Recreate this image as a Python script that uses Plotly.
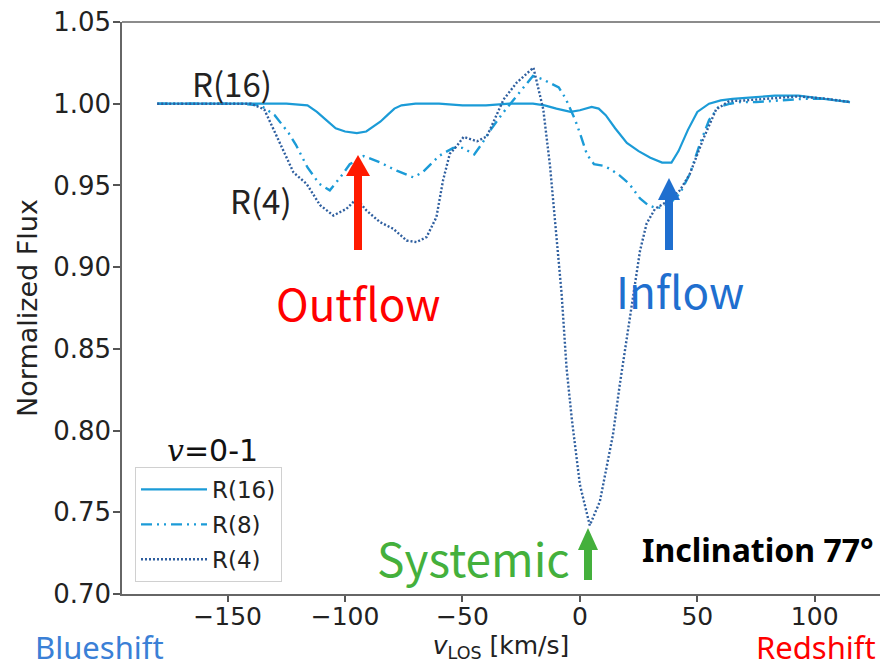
import plotly.graph_objects as go

# ---------------- data ----------------
v_r16 = [-180, -160, -140, -125, -116, -112, -108, -104, -100, -95, -91, -88, -85, -82, -79, -76,
         -70, -60, -50, -40, -30, -20, -15, -10, -4, 0, 5, 8, 11, 15, 20, 25, 30, 35, 39, 42,
         46, 50, 55, 60, 65, 75, 83, 93, 105, 115]
f_r16 = [1.000, 1.000, 1.000, 1.000, 0.999, 0.995, 0.990, 0.985, 0.983, 0.982, 0.983, 0.986, 0.989,
         0.993, 0.997, 0.999, 1.000, 1.000, 0.999, 0.999, 1.000, 1.000, 0.999, 0.997, 0.995, 0.996,
         0.998, 0.997, 0.993, 0.985, 0.976, 0.971, 0.967, 0.964, 0.964, 0.971, 0.984, 0.995, 1.000,
         1.002, 1.003, 1.004, 1.005, 1.005, 1.003, 1.001]

v_r8 = [-180, -160, -145, -136, -130, -124, -121, -116, -111, -106.5, -102, -98, -92, -85, -78,
        -71, -67, -60, -54, -50, -45, -42, -38, -33, -28, -24, -20, -16, -12, -9, -6, -4, -2,
        0, 3, 6, 10, 13, 17, 21, 25.6, 29, 32.6, 36, 39, 42.6, 46.8, 51, 55, 59, 64, 68, 75,
        85, 95, 105, 115]
f_r8 = [1.000, 1.000, 1.000, 0.999, 0.993, 0.982, 0.975, 0.961, 0.951, 0.947, 0.955, 0.963, 0.968,
        0.964, 0.959, 0.955, 0.958, 0.968, 0.973, 0.973, 0.969, 0.975, 0.984, 0.994, 1.003, 1.010,
        1.017, 1.015, 1.012, 1.010, 1.003, 0.997, 0.990, 0.982, 0.969, 0.963, 0.962, 0.960, 0.956,
        0.951, 0.942, 0.938, 0.936, 0.937, 0.940, 0.945, 0.957, 0.975, 0.990, 0.998, 1.000, 1.001,
        1.001, 1.002, 1.003, 1.003, 1.001]

v_r4 = [-180, -160, -145, -140, -134.4, -128, -122, -116.4, -110.7, -105, -99.4, -95.1, -90.9,
        -85.2, -79.5, -73.8, -69.6, -65.3, -61.1, -58.3, -55.4, -52.5, -49.5, -43.8, -39.6,
        -32.5, -26.9, -19.8, -15.6, -12.7, -7.8, -5.7, -3.5, 0, 4.2, 8.5, 14.1, 17, 21.2,
        22.7, 25.6, 28.4, 32, 37, 42.6, 46.8, 52.4, 58, 63.6, 70, 79, 93, 105, 115]
f_r4 = [1.000, 1.000, 1.000, 1.000, 0.9965, 0.977, 0.958, 0.951, 0.938, 0.9316, 0.9357, 0.9419,
        0.9347, 0.9276, 0.9235, 0.9163, 0.9153, 0.9184, 0.9306, 0.953, 0.9694, 0.974, 0.9797,
        0.977, 0.980, 1.0026, 1.0129, 1.0221, 0.9965, 0.9616, 0.884, 0.8386, 0.8078, 0.7669,
        0.742, 0.7566, 0.7976, 0.8283, 0.8693, 0.882, 0.910, 0.9266, 0.9357, 0.940, 0.947,
        0.957, 0.978, 0.9965, 1.0016, 1.002, 1.003, 1.0045, 1.003, 1.001]

series_names = ["R(16)", "R(8)", "R(4)"]
x_ticks = [-150, -100, -50, 0, 50, 100]
y_ticks = [0.70, 0.75, 0.80, 0.85, 0.90, 0.95, 1.00, 1.05]

# ---------------- layout geometry ----------------
W, H = 880, 670
L, R, T, B = 122, 0, 22, 76
PW, PH = W - L - R, H - T - B


def px(X):
    return (X - L) / PW


def py(Y):
    return (H - B - Y) / PH


c16 = "#1b9bd7"
c8 = "#1b9bd7"
c4 = "#2f5f9f"

fig = go.Figure()
fig.add_trace(go.Scatter(x=v_r16, y=f_r16, mode="lines", name=series_names[0], legendgroup="a",
                         line=dict(color=c16, width=2.2)))
fig.add_trace(go.Scatter(x=v_r8, y=f_r8, mode="lines", name=series_names[1], legendgroup="b",
                         line=dict(color=c8, width=2.4, dash="11px,5px,2px,5px,2px,5px")))
fig.add_trace(go.Scatter(x=v_r4, y=f_r4, mode="lines", name=series_names[2], legendgroup="c",
                         line=dict(color=c4, width=2.4, dash="2px,2px")))

tick_font = dict(family="DejaVu Sans", size=26, color="#222222")
fig.update_xaxes(range=[-195, 127.8], tickvals=x_ticks, ticks="outside", ticklen=6,
                 tickwidth=1.5, tickcolor="#555555", showline=True, linecolor="#666666",
                 linewidth=1.5, showgrid=False, zeroline=False,
                 tickfont=dict(family="DejaVu Sans", size=25, color="#222222"),
                 ticklabelstandoff=-7,
                 title=dict(text="<i>v</i><sub>LOS</sub> [km/s]",
                            font=dict(family="DejaVu Sans", size=25, color="#222222"),
                            standoff=6))
fig.update_yaxes(range=[0.70, 1.05], tickvals=y_ticks, tickformat=".2f", ticks="outside",
                 ticklen=7, tickwidth=1.5, tickcolor="#555555", showline=True,
                 linecolor="#666666", linewidth=1.5, showgrid=False, zeroline=False,
                 tickfont=tick_font, ticklabelstandoff=-3,
                 title=dict(text="Normalized Flux",
                            font=dict(family="DejaVu Sans", size=27, color="#222222"),
                            standoff=8))

shapes = [
    # top spine
    dict(type="line", xref="paper", yref="paper", x0=0, x1=1, y0=1, y1=1,
         line=dict(color="#666666", width=1.5)),
]


def arrow(X, tipY, baseY, tailY, hw, sw, color):
    return [
        dict(type="rect", xref="paper", yref="paper", x0=px(X - sw / 2), x1=px(X + sw / 2),
             y0=py(tailY), y1=py(baseY - 1), fillcolor=color, line=dict(width=0)),
        dict(type="path", xref="paper", yref="paper",
             path=f"M {px(X - hw)} {py(baseY)} L {px(X + hw)} {py(baseY)} L {px(X)} {py(tipY)} Z",
             fillcolor=color, line=dict(width=0)),
    ]


shapes += arrow(358, 155, 176, 250, 12, 8, "#ff1a00")
shapes += arrow(669, 178, 200, 250, 11, 8, "#1f6fcf")
shapes += arrow(588, 528, 550, 580, 10, 8, "#44b03c")
fig.update_layout(shapes=shapes)

jp = "Noto Sans CJK JP"
ann = [
    dict(text="R(16)", X=232, Y=83, size=33, color="#222222", family=jp, xa="center", ya="middle"),
    dict(text="R(4)", X=261, Y=200, size=33, color="#222222", family=jp, xa="center", ya="middle"),
    dict(text="Outflow", X=358, Y=302, size=44, color="#ff0000", family=jp, xa="center", ya="middle"),
    dict(text="Inflow", X=680, Y=290, size=44, color="#1f6fcf", family=jp, xa="center", ya="middle"),
    dict(text="Systemic", X=571, Y=557, size=46, color="#44b03c", family=jp, xa="right", ya="middle"),
    dict(text="<b>Inclination 77°</b>", X=875, Y=549, size=32, color="#000000",
         family="Noto Sans", xa="right", ya="middle"),
    dict(text="Blueshift", X=34, Y=669, size=31, color="#3a80d6", family="Noto Sans", xa="left",
         ya="bottom"),
    dict(text="Redshift", X=877, Y=669, size=31, color="#ff0000", family="Noto Sans", xa="right",
         ya="bottom"),
    dict(text="<span style='font-family:DejaVu Serif'><i>v</i></span>=0-1", X=212, Y=450,
         size=30, color="#111111", family="DejaVu Sans", xa="center", ya="middle"),
]
for a in ann:
    fig.add_annotation(text=a["text"], xref="paper", yref="paper", x=px(a["X"]), y=py(a["Y"]),
                       xanchor=a["xa"], yanchor=a["ya"], showarrow=False, borderpad=0,
                       font=dict(family=a["family"], size=a["size"], color=a["color"]))

fig.update_layout(
    width=W, height=H,
    margin=dict(l=L, r=R, t=T, b=B),
    paper_bgcolor="white", plot_bgcolor="white",
    showlegend=True,
    legend=dict(x=px(135), y=py(467), xanchor="left", yanchor="top",
                bgcolor="white", bordercolor="#d0d0d0", borderwidth=1,
                font=dict(family="DejaVu Sans", size=23, color="#222222"),
                itemwidth=66, tracegroupgap=2),
)

fig.write_html("out.html", config={"displayModeBar": False},
               post_script="document.body.style.margin='0px';document.body.style.overflow='hidden';")
